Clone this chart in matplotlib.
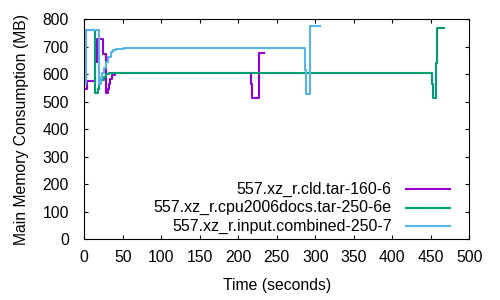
import matplotlib
matplotlib.use("Agg")
import matplotlib.pyplot as plt

# ---------------------------------------------------------------------------
# Data
# ---------------------------------------------------------------------------

cld_t = [0, 3.1, 13.9, 16.5, 23.9, 28.6, 30.3, 31.7, 33.8, 36.0, 40.3, 216.1, 217.4, 227.3, 233.8]
cld_mb = [545, 575, 646, 730, 675, 530, 548, 566, 584, 596, 603, 565, 515, 677, 677]

docs_t = [0, 13.9, 17.4, 19.5, 21.7, 25.2, 28.2, 31.7, 451.0, 452.5, 456.6, 457.5, 467.5]
docs_mb = [760, 530, 548, 563, 578, 590, 600, 605, 564, 515, 642, 768, 768]

comb_t = [0, 2.6, 19.0, 21.2, 23.4, 25.5, 28.6, 31.2, 34.2, 37.2, 40.7, 51.5,
          286.6, 287.5, 293.1, 306.0]
comb_mb = [566, 760, 566, 585, 603, 621, 645, 663, 681, 690, 692, 697,
           614, 529, 775, 775]

labels = ["557.xz_r.cld.tar-160-6",
          "557.xz_r.cpu2006docs.tar-250-6e",
          "557.xz_r.input.combined-250-7"]
colours = ["#9400D3", "#009E73", "#56B4E9"]

x_ticks = list(range(0, 501, 50))
y_ticks = list(range(0, 801, 100))

# ---------------------------------------------------------------------------
# Plot
# ---------------------------------------------------------------------------

plt.rcParams.update({
    "font.family": ["Liberation Sans", "DejaVu Sans"],
    "font.size": 11.3,
})

fig = plt.figure(figsize=(5, 3), dpi=100)
ax = fig.add_axes([0.1686, 0.2033, 0.77, 0.7324])

series = [(cld_t, cld_mb), (docs_t, docs_mb), (comb_t, comb_mb)]
for (t, mb), col in zip(series, colours):
    ax.step(t, mb, where="post", color=col, lw=1.5)

ax.set_xlim(0, 500)
ax.set_ylim(0, 800)
ax.set_xticks(x_ticks)
ax.set_yticks(y_ticks)
ax.tick_params(direction="in", length=3, width=0.8, top=True, right=True)
ax.tick_params(axis="x", pad=8)
ax.tick_params(axis="y", pad=11)
for s in ax.spines.values():
    s.set_linewidth(0.8)

ax.set_xlabel("Time (seconds)", labelpad=9)
ax.set_ylabel("Main Memory Consumption (MB)", labelpad=10)

# gnuplot-style key: right-aligned text followed by a line sample
key_y = [0.227, 0.143, 0.059]
for lab, col, y in zip(labels, colours, key_y):
    ax.text(0.798, y, lab, transform=ax.transAxes, ha="right", va="center",
            fontsize=11.5)
    ax.plot([0.835, 0.95], [y, y], transform=ax.transAxes, color=col, lw=1.5)

fig.savefig("out.png", dpi=100)
